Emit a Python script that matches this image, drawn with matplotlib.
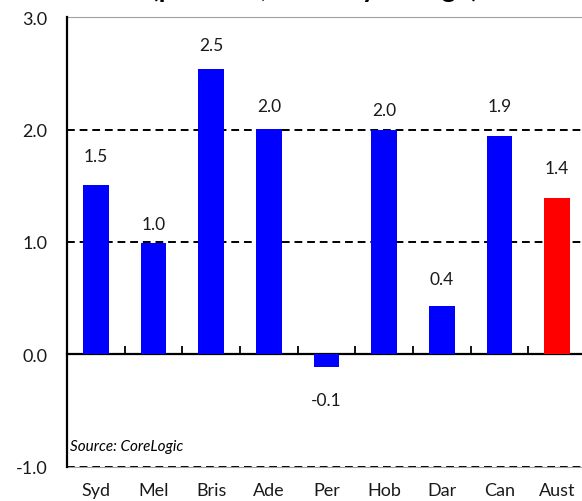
#! /usr/bin/env python3

import matplotlib.pyplot as plt
import numpy as np

# data
cities = ['Syd', 'Mel', 'Bris', 'Ade', 'Per', 'Hob', 'Dar', 'Can', 'Aust']
changes = [1.51, 0.99, 2.54, 2.01, -0.11, 2.00, 0.43, 1.94, 1.39]
colours = ['#0000ff'] * 8 + ['#ff0000']
# label distance from bar end, pixels
label_gap = [29, 19, 24, 23, 33, 20, 27, 30, 30]


def mkplot():
    plt.rcParams['font.family'] = ['Lato', 'DejaVu Sans']

    fig = plt.figure(figsize=(5.82, 5.02), dpi=100)
    ax = fig.add_axes([67 / 582, 34.4 / 502, 519 / 582, 449.2 / 502])

    x = np.arange(len(cities))
    rects = ax.bar(x, changes, 0.45, color=colours, zorder=3)

    for r, v, gap in zip(rects, changes, label_gap):
        off = gap * 0.72 if v >= 0 else -gap * 0.72
        ax.annotate('{:.1f}'.format(v),
                    xy=(r.get_x() + r.get_width() / 2, v),
                    xytext=(0, off), textcoords='offset points',
                    ha='center', va='center', fontsize=12.5, color='#1a1a1a')

    ax.set_xlim(-0.5, len(cities) - 0.5)
    ax.set_ylim(-1, 3)
    ax.set_yticks([-1, 0, 1, 2, 3])
    ax.set_yticklabels(['{:.1f}'.format(t) for t in [-1, 0, 1, 2, 3]])
    ax.set_xticks(x)
    ax.set_xticklabels(cities)
    ax.tick_params(axis='both', length=0, labelsize=13, colors='#1a1a1a')
    ax.tick_params(axis='y', pad=14)
    ax.tick_params(axis='x', pad=11)

    # dashed grid
    for t in [-1, 1, 2, 3]:
        ax.axhline(t, color='black', lw=1.4, dashes=(4, 2.5), zorder=2)

    for s in ['top', 'bottom', 'right']:
        ax.spines[s].set_color('#a0a0a0')
        ax.spines[s].set_linewidth(0.8)
    ax.spines['left'].set_linewidth(1.6)
    ax.spines['left'].set_zorder(4)

    # zero line with category ticks
    zero = ax.secondary_xaxis(0.25)
    zero.spines['bottom'].set_linewidth(1.6)
    zero.set_xticks(x[:-1] + 0.5)
    zero.set_xticklabels([])
    zero.tick_params(direction='in', length=6, width=1.3)

    ax.text(0.006, 0.046, 'Source: CoreLogic', transform=ax.transAxes,
            fontsize=11, style='italic', va='center', ha='left')

    # title sits mostly above the canvas, as in the source image
    fig.text(315 / 582, 1.0 + 3 / 502, '(per cent, monthly change)',
             ha='center', va='baseline', fontsize=20, fontweight='bold')

    plt.savefig('out.png', dpi=100)


if __name__ == "__main__":
    mkplot()
